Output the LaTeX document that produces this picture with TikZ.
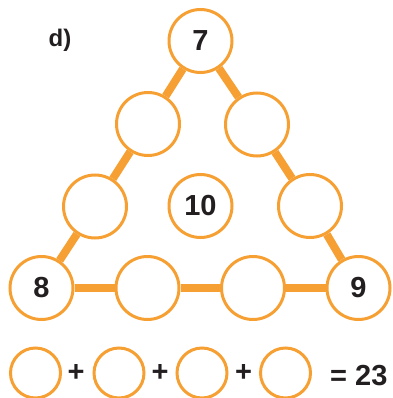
\documentclass[tikz,border=0pt]{standalone}
\usepackage{fontspec}
\setmainfont{Liberation Sans}
\usetikzlibrary{positioning}
\definecolor{ringorange}{RGB}{246,160,51}
\definecolor{digitgray}{RGB}{35,31,32}

\begin{document}
\begin{tikzpicture}[x=1pt,y=-1pt,
  ring/.style={circle,draw=ringorange,line width=3pt,fill=white,minimum size=63pt,inner sep=0pt,
    text=digitgray,font=\fontsize{29}{29}\selectfont\bfseries},
  smallring/.style={circle,draw=ringorange,line width=3pt,minimum size=50pt,inner sep=0pt},
  link/.style={draw=ringorange,line width=8pt},
  sign/.style={text=digitgray,font=\fontsize{29}{29}\selectfont\bfseries}]
  \useasboundingbox (0,0) rectangle (392,398);
  \node[sign,font=\fontsize{24}{24}\selectfont\bfseries] (lab) at (60,40) {d)};
  % triangle
  \node[ring] (top) at (200.5,41) {7};
  \node[ring] (l1) at (148,124) {};
  \node[ring] (l2) at (95,206.5) {};
  \node[ring] (r1) at (257,124.5) {};
  \node[ring] (r2) at (310,206) {};
  \node[ring] (mid) at (200.5,206) {10};
  \node[ring] (bl) at (41.5,288) {8};
  \node[ring] (b1) at (147.5,288) {};
  \node[ring] (b2) at (253,288) {};
  \node[ring] (br) at (358.5,288) {9};
  \draw[link] (top) -- (l1) (l1) -- (l2) (l2) -- (bl);
  \draw[link] (top) -- (r1) (r1) -- (r2) (r2) -- (br);
  \draw[link] (bl) -- (b1) (b1) -- (b2) (b2) -- (br);
  % sum
  \node[smallring] (s1) at (35.5,373) {};
  \node[smallring] (s2) at (119,373) {};
  \node[smallring] (s3) at (202,373) {};
  \node[smallring] (s4) at (285.5,373) {};
  \node[sign] (p1) at (76,373) {+};
  \node[sign] (p2) at (160,373) {+};
  \node[sign] (p3) at (243.5,373) {+};
  \node[sign,anchor=east] (res) at (391,376) {= 23};
\end{tikzpicture}
\end{document}
